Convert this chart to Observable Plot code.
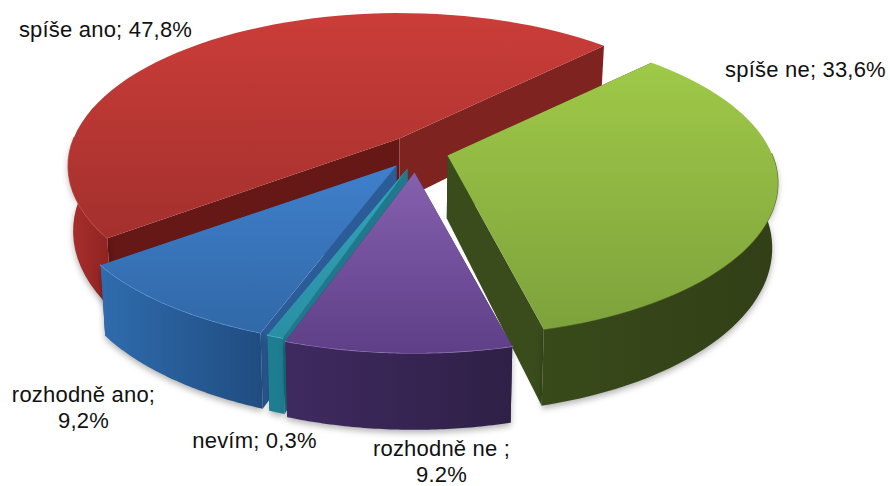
<!DOCTYPE html>
<html>
<head>
<meta charset="utf-8">
<script src="https://cdn.jsdelivr.net/npm/d3@7"></script>
<script src="https://cdn.jsdelivr.net/npm/@observablehq/plot@0.6"></script>
<style>html,body{margin:0;padding:0;background:#fff}svg{display:block}svg text{letter-spacing:.2px}</style>
</head>
<body>
<div id="chart"></div>
<script>
// Data: in pie order, clockwise from the first edge of the green slice
const categories = ["spíše ne", "rozhodně ne", "nevím", "rozhodně ano", "spíše ano"];
const shares = [33.6, 9.2, 0.3, 9.2, 47.8];
const labelTexts = ["spíše ne; 33,6%", "rozhodně ne ;\n9.2%", "nevím; 0,3%", "rozhodně ano;\n9,2%", "spíše ano; 47,8%"];

// Layout of the 3D projection
const apexX = [447, 414, 407, 396, 399];
const apexY = [155, 172, 168, 165, 138];
const radiusX = [325, 330, 330, 330, 326];
const labelX = [805, 441, 254, 83, 105];
const labelY = [68, 460, 439, 406, 28];
const RY = 148, PERSP = 0.18, DEPTH = 63, START = 45, MIN_SWEEP = 2.4;

const corner = (x, y, p, down) =>
  down ? {x: 400 + (x - 400) * 0.985, y: y + DEPTH * p} : {x, y};
const project = (i, deg, down = false) => {
  const t = deg * Math.PI / 180, X = Math.sin(t), Y = Math.cos(t), p = 1 / (1 + PERSP * Y);
  return corner(apexX[i] + radiusX[i] * X * p, apexY[i] - RY * Y * p, p, down);
};

const total = d3.sum(shares);
let cum = 0;
const slices = shares.map((v, i) => {
  let a0 = START + cum / total * 360;
  cum += v;
  let a1 = START + cum / total * 360;
  if (a1 - a0 < MIN_SWEEP) { const m = (a0 + a1) / 2; a0 = m - MIN_SWEEP / 2; a1 = m + MIN_SWEEP / 2; }
  const angles = d3.range(0, 61).map(k => a0 + (a1 - a0) * k / 60);
  const apex = corner(apexX[i], apexY[i], 1, false), apexB = corner(apexX[i], apexY[i], 1, true);
  const rim = angles.map(a => project(i, a));
  const front = angles.filter(a => Math.cos(a * Math.PI / 180) <= 0.03);
  const frontTop = front.map(a => project(i, a));
  const frontBot = front.map(a => project(i, a, true));
  return {
    top: [apex, ...rim],
    wall0: [apex, rim[0], project(i, a0, true), apexB],
    wall1: [apex, rim[60], project(i, a1, true), apexB],
    side: [...frontTop, ...frontBot.reverse()],
    edge: frontTop
  };
});

const styles = [
  {top: ["#9fc948", "#7ea23c"], side: ["#384a1a", "#323f17"], wall0: "#35461a", wall1: "#3a4c1c", edge: "#55701f"},
  {top: ["#8560ae", "#5f3f88"], side: ["#3f2a60", "#2e2046"], wall0: "#3d2959", wall1: "#3d2959", edge: "#9d84bf"},
  {top: ["#33a3b8", "#2a8fa5"], side: ["#1f7d92", "#1f7d92"], wall0: "#20788c", wall1: "#20788c", edge: "#5cbccd"},
  {top: ["#3f7fcb", "#3169a8"], side: ["#2f6cae", "#204c80"], wall0: "#2b5c98", wall1: "#2b5c98", edge: "#6d9fd8"},
  {top: ["#cb3d39", "#a3302d"], side: ["#a92f2c", "#8e2321"], wall0: "#651816", wall1: "#7f2321", edge: "#c85a56"}
];

const defs = () => {
  const d = d3.create("svg:defs");
  styles.forEach((s, i) => {
    const v = d.append("linearGradient").attr("id", "top" + i).attr("x1", 0).attr("y1", 0).attr("x2", 0).attr("y2", 1);
    v.append("stop").attr("offset", 0).attr("stop-color", s.top[0]);
    v.append("stop").attr("offset", 1).attr("stop-color", s.top[1]);
    const h = d.append("linearGradient").attr("id", "side" + i);
    h.append("stop").attr("offset", 0).attr("stop-color", s.side[0]);
    h.append("stop").attr("offset", 1).attr("stop-color", s.side[1]);
  });
  return d.node();
};

const poly = (pts, fill, extra = {}) => Plot.line(pts, {x: "x", y: "y", fill, stroke: "none", ...extra});
const order = [4, 0, 3, 2, 1];
const shadow = {imageFilter: "drop-shadow(0px 3px 3px rgba(0,0,0,0.3))"};
const marks = [defs];
for (const i of order) {
  const s = slices[i], c = styles[i];
  marks.push(poly(s.wall0, c.wall0));
  marks.push(poly(s.wall1, c.wall1));
  if (s.side.length) {
    marks.push(poly(s.side, `url(#side${i})`, shadow));
    marks.push(Plot.line(s.edge, {x: "x", y: "y", stroke: c.edge, strokeWidth: 1.2}));
  }
  marks.push(poly(s.top, `url(#top${i})`));
}
marks.push(Plot.text(labelTexts.map((t, i) => ({t, x: labelX[i], y: labelY[i]})), {
  x: "x", y: "y", text: "t", fontSize: 22, fill: "#111", fontFamily: "'Liberation Sans', Arial, sans-serif", lineHeight: 1.2, lineAnchor: "middle"
}));

document.getElementById("chart").append(Plot.plot({
  width: 890, height: 486, margin: 0,
  x: {domain: [0, 890], range: [0, 890], axis: null},
  y: {domain: [0, 486], range: [0, 486], axis: null},
  marks
}));
</script>
</body>
</html>
